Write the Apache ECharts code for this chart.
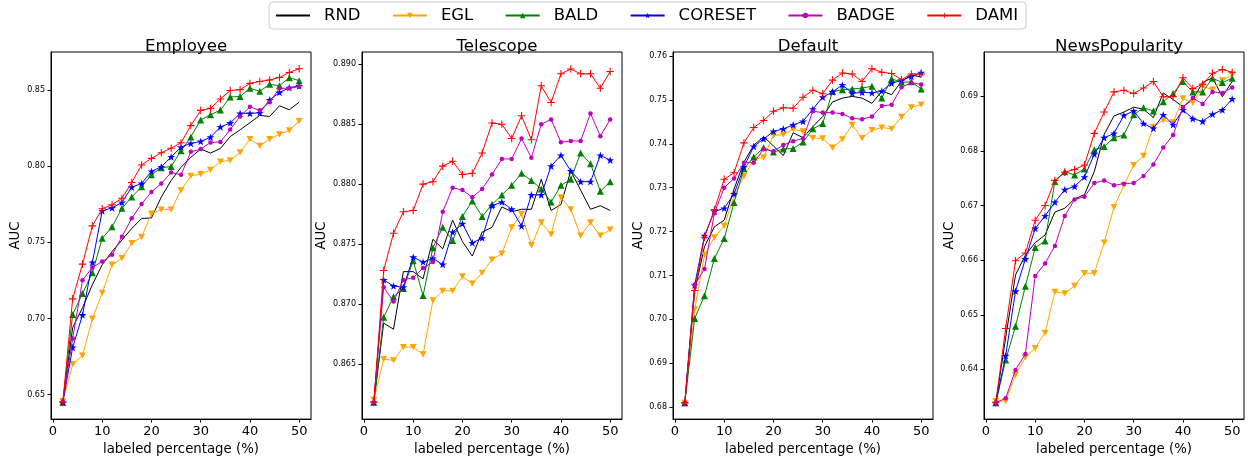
<!DOCTYPE html>
<html>
<head>
<meta charset="utf-8">
<script src="https://cdn.jsdelivr.net/npm/echarts@6/dist/echarts.min.js"></script>
<style>
html,body{margin:0;padding:0;background:#fff;}
#chart{width:1248px;height:461px;}
</style>
</head>
<body>
<div id="chart"></div>
<script>
// ---------------- data ----------------
const methods = ['RND', 'EGL', 'BALD', 'CORESET', 'BADGE', 'DAMI'];
const datasets = ['Employee', 'Telescope', 'Default', 'NewsPopularity'];
const pct = [2, 4, 6, 8, 10, 12, 14, 16, 18, 20, 22, 24, 26, 28, 30, 32, 34, 36, 38, 40, 42, 44, 46, 48, 50];
const xTicks = [0, 10, 20, 30, 40, 50];

const employeeRND     = [0.645,0.694,0.707,0.7222,0.7353,0.744,0.7515,0.7591,0.7656,0.766,0.7797,0.7906,0.7992,0.8058,0.8112,0.8086,0.8116,0.8194,0.8238,0.8285,0.8333,0.8326,0.8396,0.837,0.842];
const employeeEGL     = [0.6457,0.670,0.6756,0.6999,0.7168,0.7353,0.7396,0.7494,0.7535,0.7689,0.7715,0.7715,0.7841,0.7936,0.7947,0.7975,0.8029,0.8038,0.809,0.8177,0.8133,0.8177,0.8209,0.8235,0.8296];
const employeeBALD    = [0.645,0.7027,0.7164,0.730,0.7526,0.7602,0.7723,0.7797,0.7864,0.7943,0.799,0.7997,0.8101,0.8192,0.8303,0.8337,0.8368,0.8454,0.8457,0.8511,0.8491,0.8537,0.8528,0.858,0.8561];
const employeeCORESET = [0.645,0.681,0.7023,0.7368,0.7706,0.7726,0.7762,0.7862,0.7886,0.7966,0.7995,0.806,0.8125,0.8149,0.8162,0.819,0.8257,0.8283,0.8346,0.8346,0.835,0.8435,0.8483,0.8515,0.8526];
const employeeBADGE   = [0.6457,0.6869,0.7251,0.7335,0.7374,0.7418,0.7537,0.7658,0.7752,0.783,0.7886,0.7958,0.7943,0.8094,0.8112,0.8155,0.8159,0.824,0.8326,0.8389,0.8366,0.842,0.8511,0.8511,0.8522];
const employeeDAMI    = [0.645,0.7129,0.7357,0.7608,0.7721,0.7747,0.7789,0.7893,0.8008,0.8051,0.8088,0.8118,0.8153,0.8266,0.8366,0.8379,0.8441,0.8496,0.8502,0.8543,0.8556,0.8565,0.8582,0.8615,0.8639];

const telescopeRND     = [0.8618,0.8684,0.8679,0.8727,0.8727,0.8721,0.8754,0.8746,0.877,0.8752,0.874,0.876,0.8764,0.8781,0.8777,0.8779,0.8779,0.8804,0.8778,0.8783,0.8811,0.8795,0.8779,0.8782,0.8778];
const telescopeEGL     = [0.862,0.8654,0.8653,0.8664,0.8664,0.8658,0.8703,0.8711,0.8711,0.8723,0.8717,0.8726,0.8737,0.8742,0.8764,0.8775,0.8749,0.8768,0.8758,0.8789,0.8779,0.8757,0.8768,0.8757,0.8762];
const telescopeBALD    = [0.8618,0.8689,0.8706,0.8713,0.8736,0.8707,0.8747,0.8764,0.8753,0.8773,0.8786,0.8773,0.8783,0.8791,0.8799,0.8809,0.8803,0.8796,0.8785,0.8799,0.8804,0.8826,0.8817,0.8794,0.8802];
const telescopeCORESET = [0.8618,0.872,0.8715,0.8714,0.8739,0.8735,0.8738,0.8733,0.876,0.8767,0.8751,0.8755,0.8782,0.8785,0.8779,0.8765,0.8791,0.8791,0.8815,0.8824,0.8811,0.8802,0.8802,0.8824,0.882];
const telescopeBADGE   = [0.8618,0.8714,0.8702,0.872,0.8722,0.873,0.8735,0.8777,0.8797,0.8795,0.8789,0.8796,0.8808,0.8821,0.8821,0.8838,0.8822,0.885,0.8854,0.8835,0.8836,0.8836,0.8859,0.884,0.8854];
const telescopeDAMI    = [0.8618,0.8728,0.8759,0.8777,0.8778,0.88,0.8802,0.8815,0.8819,0.8808,0.8809,0.8826,0.8851,0.885,0.8838,0.8857,0.8837,0.8882,0.8868,0.8892,0.8896,0.8892,0.8892,0.888,0.8894];

const defaultRND     = [0.681,0.7064,0.7166,0.7211,0.7226,0.7297,0.7358,0.7397,0.7416,0.7395,0.7373,0.7425,0.7414,0.7439,0.7462,0.7495,0.7504,0.7508,0.7504,0.7492,0.752,0.7512,0.7542,0.7557,0.7552];
const defaultEGL     = [0.681,0.7023,0.7147,0.7187,0.7213,0.7282,0.7326,0.7364,0.7369,0.7419,0.7421,0.7433,0.7428,0.7413,0.7412,0.7391,0.741,0.7443,0.7413,0.7431,0.7437,0.7434,0.7461,0.7483,0.7489];
const defaultBALD    = [0.681,0.7002,0.7054,0.7139,0.7184,0.7266,0.7343,0.737,0.7391,0.7381,0.7388,0.7389,0.7404,0.7434,0.7446,0.7519,0.7523,0.7525,0.7527,0.7531,0.7504,0.7548,0.754,0.7541,0.7525];
const defaultCORESET = [0.681,0.7078,0.7191,0.7246,0.7253,0.7286,0.7347,0.7394,0.7411,0.7428,0.7434,0.7443,0.7451,0.7479,0.7506,0.7518,0.7534,0.7515,0.7517,0.7516,0.752,0.7538,0.7544,0.7553,0.7562];
const defaultBADGE   = [0.681,0.7079,0.7115,0.7242,0.730,0.7321,0.7357,0.7357,0.7388,0.7383,0.7397,0.7406,0.7412,0.7474,0.7471,0.7471,0.7468,0.7458,0.7456,0.7462,0.7486,0.7489,0.7529,0.7539,0.7535];
const defaultDAMI    = [0.681,0.7066,0.7187,0.725,0.7319,0.7334,0.7402,0.7437,0.7453,0.7474,0.7482,0.7481,0.7506,0.7522,0.7514,0.7545,0.7561,0.7559,0.7542,0.7571,0.7563,0.756,0.7546,0.7559,0.7559];

const newsRND     = [0.6339,0.6458,0.6573,0.6609,0.6632,0.6646,0.6688,0.6695,0.6712,0.672,0.6762,0.683,0.6864,0.6871,0.688,0.6876,0.6861,0.6906,0.6894,0.6881,0.6894,0.6925,0.6934,0.6899,0.6927];
const newsEGL     = [0.6342,0.6342,0.639,0.6422,0.6439,0.6467,0.6542,0.6539,0.6553,0.6576,0.6576,0.6632,0.6697,0.6737,0.6774,0.6791,0.6844,0.6856,0.6852,0.6896,0.6888,0.6918,0.6912,0.6929,0.6939];
const newsBALD    = [0.6339,0.6417,0.6479,0.6552,0.6623,0.6635,0.6744,0.6762,0.6756,0.6767,0.6802,0.6808,0.6824,0.6829,0.6866,0.6879,0.6873,0.689,0.6905,0.6927,0.6908,0.6908,0.6933,0.6925,0.6933];
const newsCORESET = [0.6339,0.6425,0.6543,0.6602,0.6658,0.6681,0.6706,0.6729,0.6735,0.6752,0.6794,0.6824,0.6832,0.6865,0.6873,0.685,0.6841,0.6866,0.6848,0.6875,0.6859,0.6854,0.6867,0.6875,0.6895];
const newsBADGE   = [0.6339,0.6347,0.6399,0.6428,0.6571,0.6594,0.6626,0.6681,0.6711,0.6716,0.6741,0.6746,0.6737,0.674,0.6741,0.6754,0.6775,0.6806,0.6829,0.688,0.6897,0.6886,0.6908,0.6906,0.6916];
const newsDAMI    = [0.6339,0.6475,0.6599,0.6613,0.6673,0.670,0.6746,0.6761,0.6766,0.6774,0.6832,0.6871,0.6908,0.6911,0.6905,0.6915,0.6927,0.6899,0.6899,0.6934,0.6914,0.6922,0.6942,0.6949,0.6944];

const employeeYTicks  = [0.65, 0.70, 0.75, 0.80, 0.85];
const telescopeYTicks = [0.865, 0.870, 0.875, 0.880, 0.885, 0.890];
const defaultYTicks   = [0.68, 0.69, 0.70, 0.71, 0.72, 0.73, 0.74, 0.75, 0.76];
const newsYTicks      = [0.64, 0.65, 0.66, 0.67, 0.68, 0.69];

const panelValues = [
  [employeeRND, employeeEGL, employeeBALD, employeeCORESET, employeeBADGE, employeeDAMI],
  [telescopeRND, telescopeEGL, telescopeBALD, telescopeCORESET, telescopeBADGE, telescopeDAMI],
  [defaultRND, defaultEGL, defaultBALD, defaultCORESET, defaultBADGE, defaultDAMI],
  [newsRND, newsEGL, newsBALD, newsCORESET, newsBADGE, newsDAMI]
];
const panelYTicks = [employeeYTicks, telescopeYTicks, defaultYTicks, newsYTicks];

// ---------------- layout / style ----------------
const FONT = 'DejaVu Sans';
const gridLeft = [51, 362, 673, 984];
const gridTop = 52, gridW = 260, gridH = 370;
const yRange = [[0.634, 0.8749], [0.8604, 0.89102], [0.6773, 0.7609], [0.6309, 0.6981]];
const yDecimals = [2, 3, 2, 2];
const yNameGap = [28.5, 33.5, 28, 27.5];

const colors = ['#000000', '#ffa500', '#008000', '#0000ff', '#bf00bf', '#ff0000'];
const STAR = 'path://M5,0 L6.18,3.6 L10,3.6 L6.9,5.85 L8.09,9.5 L5,7.25 L1.91,9.5 L3.1,5.85 L0,3.6 L3.82,3.6 Z';
const DOWN = 'path://M0,0 L10,0 L5,9 Z';
const PLUS = 'path://M4.3,0 H5.7 V4.3 H10 V5.7 H5.7 V10 H4.3 V5.7 H0 V4.3 H4.3 Z';
const symbols = ['none', DOWN, 'triangle', STAR, 'circle', PLUS];
const symbolSizes = [0, 7, 7, 8, 4.5, 7.5];

const grids = [], xAxes = [], yAxes = [], series = [], titles = [];
for (let p = 0; p < 4; p++) {
  grids.push({ left: gridLeft[p], top: gridTop, width: gridW, height: gridH,
               show: true, borderColor: '#000', borderWidth: 1, backgroundColor: 'transparent' });
  titles.push({ text: datasets[p], left: gridLeft[p] + gridW / 2, top: 33, textAlign: 'center',
                textStyle: { fontFamily: FONT, fontSize: 16.6, fontWeight: 'normal', color: '#000' } });
  xAxes.push({ type: 'value', gridIndex: p, min: -0.4, max: 52.4,
    name: 'labeled percentage (%)', nameLocation: 'middle', nameGap: 23.5,
    nameTextStyle: { fontFamily: FONT, fontSize: 13.3, color: '#000' },
    axisLine: { show: true, onZero: false, lineStyle: { color: '#000', width: 1 } },
    axisTick: { show: true, length: 3.5, customValues: xTicks, lineStyle: { color: '#000' } },
    axisLabel: { show: true, margin: 6, customValues: xTicks, fontFamily: FONT, fontSize: 13, color: '#000',
                 formatter: v => String(v) },
    splitLine: { show: false } });
  const dec = yDecimals[p];
  yAxes.push({ type: 'value', gridIndex: p, min: yRange[p][0], max: yRange[p][1],
    name: 'AUC', nameLocation: 'middle', nameGap: yNameGap[p], nameRotate: 90,
    nameTextStyle: { fontFamily: FONT, fontSize: 13.3, color: '#000' },
    axisLine: { show: true, onZero: false, lineStyle: { color: '#000', width: 1 } },
    axisTick: { show: true, length: 3.5, customValues: panelYTicks[p], lineStyle: { color: '#000' } },
    axisLabel: { show: true, margin: 6, customValues: panelYTicks[p], fontFamily: FONT, fontSize: 8, color: '#000',
                 formatter: v => Number(v).toFixed(dec) },
    splitLine: { show: false } });
  for (let m = 0; m < methods.length; m++) {
    const vals = panelValues[p][m];
    series.push({
      name: methods[m], type: 'line', xAxisIndex: p, yAxisIndex: p,
      data: pct.map((x, i) => [x, vals[i]]),
      symbol: symbols[m], symbolSize: symbolSizes[m], symbolKeepAspect: true,
      showSymbol: m !== 0,
      lineStyle: { color: colors[m], width: 1 },
      itemStyle: { color: colors[m], borderWidth: 0 },
      emphasis: { disabled: true },
      z: 2 + m
    });
  }
}

const legendData = methods.map((name, m) =>
  m === 0 ? { name: name, itemStyle: { opacity: 0 } } : { name: name });

const chart = echarts.init(document.getElementById('chart'), null, { renderer: 'canvas' });
chart.setOption({
  animation: false,
  backgroundColor: '#fff',
  title: titles,
  legend: {
    data: legendData, left: 269, top: 2,
    padding: [5, 8, 5, 6],
    itemWidth: 34, itemHeight: 7, itemGap: 31.4,
    borderColor: '#cccccc', borderWidth: 1, borderRadius: 4,
    textStyle: { fontFamily: FONT, fontSize: 16.5, color: '#000', padding: [0, 0, 0, 9] }
  },
  grid: grids,
  xAxis: xAxes,
  yAxis: yAxes,
  series: series
});
</script>
</body>
</html>
